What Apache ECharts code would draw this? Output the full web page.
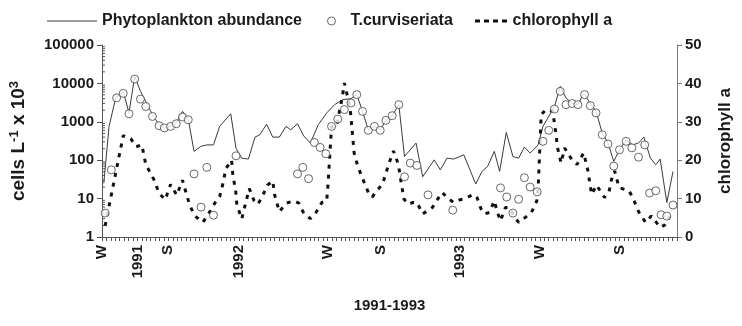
<!DOCTYPE html>
<html>
<head>
<meta charset="utf-8">
<script src="https://cdn.jsdelivr.net/npm/echarts@6/dist/echarts.min.js"></script>
<style>
  html, body { margin: 0; padding: 0; background: #fff; overflow: hidden; }
  #chart { width: 742px; height: 326px; }
</style>
</head>
<body>
<div id="chart"></div>
<script>
// Sampling position along the 1991-1993 record (one unit per sampling tick)
const phytoWeek = [0.4, 1.6, 3.1, 4.8, 6.1, 7.4, 8.7, 9.9, 11.4, 12.9, 14.1, 15.5, 16.8, 18.2, 19.5, 20.8, 22.4, 23.7, 25.2, 26.6,
  29.1, 30.3, 31.6, 33.1, 34.6, 35.7, 37.2, 38.6, 40.1, 41.6, 42.7, 44.2, 45.6, 47.1, 48.9, 50.8, 52.6, 54.5, 56.3, 57.6,
  58.9, 60.2, 61.6, 62.9, 64.2, 65.6, 67.1, 68.4, 71.0, 72.5, 75.1, 76.5, 78.0, 79.5, 81.8, 84.5, 85.9, 87.2, 88.7, 89.9,
  91.4, 92.9, 94.2, 95.5, 96.8, 98.6, 99.7, 102.3, 103.6, 104.9, 106.3, 107.6, 108.9, 110.4, 111.7, 113.1, 114.4, 115.7, 117.0, 118.5,
  120.0, 121.3, 122.5, 124.0, 125.2, 126.2, 127.7, 129.1];
// Phytoplankton abundance, cells L-1 x 10^3
const phytoCells = [25, 760, 4200, 6200, 1700, 15400, 6200, 3400, 1540, 840, 690, 760, 930, 1870, 1180, 170, 230, 250, 250, 760,
  1620, 205, 113, 107, 400, 460, 870, 400, 400, 760, 620, 890, 430, 280, 840, 1700, 2800, 3800, 4000, 5100,
  1870, 620, 760, 620, 1090, 1440, 2800, 125, 280, 37, 102, 56, 113, 107, 138, 24, 51, 69, 170, 51,
  530, 125, 113, 220, 153, 250, 760, 2500, 8400, 4200, 3000, 2800, 5600, 3000, 1870, 510, 280, 93, 187, 340,
  250, 280, 400, 113, 76, 107, 7.9, 51];

const curvWeek = [0.7, 2.1, 3.3, 4.8, 6.1, 7.4, 8.7, 9.9, 11.4, 12.9, 14.1, 15.5, 16.8, 18.2, 19.5, 20.8, 22.4, 23.7, 25.2, 30.3,
  44.2, 45.4, 46.7, 48.0, 49.3, 50.6, 51.9, 53.3, 54.8, 56.3, 57.6, 58.9, 60.2, 61.6, 62.9, 64.2, 65.6, 67.1, 68.4, 69.7,
  71.2, 73.7, 79.3, 90.1, 91.5, 92.9, 94.2, 95.5, 96.8, 98.4, 99.7, 101.0, 102.3, 103.6, 104.9, 106.3, 107.6, 109.1, 110.4, 111.7,
  113.1, 114.4, 115.7, 117.0, 118.5, 119.8, 121.3, 122.7, 123.8, 125.2, 126.4, 127.7, 129.1];
// T. curviseriata, cells L-1 x 10^3
const curvCells = [4.2, 56, 4200, 5500, 1620, 13000, 3900, 2500, 1380, 790, 690, 760, 890, 1330, 1130, 44, 6, 65, 3.7, 130,
  44, 65, 33, 290, 215, 147, 760, 1180, 2080, 3100, 5100, 1870, 600, 760, 600, 1090, 1440, 2800, 37, 84,
  73, 12.5, 5, 19, 11, 4.2, 9.6, 35, 20, 15, 310, 600, 2150, 6200, 2800, 3000, 2800, 5100, 2630, 1700,
  460, 265, 70, 187, 310, 210, 120, 250, 14, 16, 3.8, 3.5, 6.8];

const chlWeek = [0.7, 4.8, 6.5, 7.7, 9.0, 9.9, 11.8, 12.9, 14.3, 15.5, 16.9, 18.2, 19.1, 19.9, 21.0, 22.8, 24.4, 25.6, 26.6, 27.4,
  28.0, 29.3, 29.6, 30.2, 30.5, 31.6, 32.4, 33.3, 34.4, 35.2, 36.1, 37.4, 38.6, 39.0, 40.1, 41.6, 43.4, 44.5, 45.6, 47.1,
  48.2, 49.7, 50.8, 51.1, 51.9, 53.0, 54.3, 54.8, 56.1, 57.0, 57.8, 59.0, 60.2, 61.1, 62.2, 63.4, 64.8, 65.9, 67.0, 67.7,
  68.3, 69.3, 70.3, 71.2, 72.5, 73.7, 74.7, 75.4, 76.9, 78.4, 79.5, 80.9, 82.0, 83.9, 84.8, 85.7, 86.5, 87.6, 88.7, 89.4,
  90.1, 91.2, 92.1, 93.1, 94.2, 95.7, 97.1, 98.3, 98.6, 99.3, 100.4, 101.9, 102.6, 103.0, 103.8, 104.6, 106.3, 107.4, 108.9, 109.8,
  110.7, 111.8, 113.6, 114.6, 115.2, 115.9, 116.9, 118.1, 119.2, 120.3, 121.4, 122.9, 124.2, 126.2, 127.2, 128.4];
// Chlorophyll a (right axis)
const chlValue = [2.9, 26.4, 25.6, 23.5, 24.0, 18.9, 14.8, 11.4, 9.7, 13.7, 10.9, 14.8, 11.1, 8.1, 5.5, 3.8, 6.6, 9.0, 10.5, 14.2,
  17.8, 20.0, 15.9, 12.3, 8.3, 4.7, 8.5, 12.6, 9.4, 8.5, 10.2, 13.5, 14.6, 11.1, 6.6, 8.8, 9.4, 8.8, 6.2, 4.8,
  6.0, 9.0, 9.4, 13.7, 28.8, 28.8, 36.2, 40.1, 33.6, 21.9, 18.5, 15.0, 11.6, 10.4, 12.2, 13.7, 18.9, 22.4, 18.9, 13.7,
  9.8, 8.5, 9.0, 9.0, 6.0, 6.9, 7.7, 9.0, 11.6, 9.9, 9.0, 9.7, 9.9, 11.1, 10.2, 7.3, 6.0, 6.4, 9.4, 6.4,
  4.2, 7.7, 7.7, 5.5, 3.8, 5.1, 6.4, 9.4, 12.4, 31.9, 33.2, 32.8, 27.1, 23.2, 19.3, 23.2, 20.0, 18.9, 21.9, 17.6,
  11.1, 13.5, 10.3, 11.6, 15.0, 17.2, 12.9, 12.4, 12.0, 9.4, 6.4, 3.8, 5.5, 2.5, 3.1, 5.4];

// Season and year marks on the time axis
const markWeeks = [0, 8, 15, 31, 51, 63, 81, 99, 117];
const markTexts = ['W', '1991', 'S', '1992', 'W', 'S', '1993', 'W', 'S'];

// Minor log ticks (2..9 within each decade)
const minorTickValues = [];
for (let k = 0; k < 5; k++) for (let m = 2; m <= 9; m++) minorTickValues.push(m * Math.pow(10, k));

const zip = (xs, ys) => xs.map((x, i) => [x, ys[i]]);
const FONT = '"Liberation Sans", Arial, sans-serif';
const INK = '#1a1a1a';
const AXIS = '#555';

const chart = echarts.init(document.getElementById('chart'), null, { renderer: 'canvas' });

const legendText = { fontFamily: FONT, fontSize: 16, fontWeight: 'bold', color: INK };
const dashIcon = 'path://M0,0h5v3h-5z M9,0h5v3h-5z M18,0h5v3h-5z M27,0h5v3h-5z';

chart.setOption({
  animation: false,
  backgroundColor: '#fff',
  grid: { left: 100, right: 53, top: 45, bottom: 89 },
  legend: [
    { data: [{ name: 'Phytoplankton abundance', icon: 'rect' }], left: 42, top: 8,
      itemWidth: 50, itemHeight: 1, itemGap: 4,
      itemStyle: { color: '#3a3a3a', borderWidth: 0 }, textStyle: legendText },
    { data: [{ name: 'T.curviseriata', icon: 'circle' }], left: 322, top: 8,
      itemWidth: 8, itemHeight: 8, itemGap: 4,
      itemStyle: { color: '#fff', borderColor: '#444', borderWidth: 1 },
      textStyle: Object.assign({}, legendText, { padding: [0, 0, 0, 10] }) },
    { data: [{ name: 'chlorophyll a', icon: dashIcon }], left: 470, top: 8,
      itemWidth: 33, itemHeight: 3, itemGap: 4,
      itemStyle: { color: '#111', borderWidth: 0 }, textStyle: legendText }
  ],
  xAxis: {
    type: 'value', min: 0, max: 130, interval: 1,
    splitLine: { show: false },
    axisLine: { lineStyle: { color: AXIS, width: 1 } },
    axisTick: { length: 4, lineStyle: { color: AXIS } },
    axisLabel: {
      rotate: 90, margin: 8, interval: 0,
      fontFamily: FONT, fontSize: 15, fontWeight: 'bold', color: INK,
      formatter: v => { const i = markWeeks.indexOf(Math.round(v)); return i >= 0 ? markTexts[i] : ''; }
    },
    name: '1991-1993', nameLocation: 'middle', nameGap: 61,
    nameTextStyle: { fontFamily: FONT, fontSize: 15, fontWeight: 'bold', color: INK }
  },
  yAxis: [
    {
      type: 'log', logBase: 10, min: 1, max: 100000,
      splitLine: { show: false },
      axisLine: { show: true, lineStyle: { color: AXIS } },
      axisTick: { show: true, length: 5, lineStyle: { color: AXIS } },
      axisLabel: { margin: 8, fontFamily: FONT, fontSize: 15, fontWeight: 'bold', color: INK,
        formatter: v => String(Math.round(v)) },
      name: 'cells L{sup|-1} x 10{sup|3}', nameLocation: 'middle', nameRotate: 90, nameGap: 72,
      nameTextStyle: {
        fontFamily: FONT, fontSize: 19, fontWeight: 'bold', color: INK,
        rich: { sup: { fontFamily: FONT, fontSize: 13, fontWeight: 'bold', color: INK, verticalAlign: 'top', padding: [0, 0, 9, 0] } }
      }
    },
    {
      type: 'value', min: 0, max: 50, interval: 10, position: 'right',
      splitLine: { show: false },
      axisLine: { show: true, lineStyle: { color: '#777' } },
      axisTick: { show: true, length: 5, lineStyle: { color: '#777' } },
      axisLabel: { margin: 8, fontFamily: FONT, fontSize: 15, fontWeight: 'bold', color: INK },
      name: 'chlorophyll a', nameLocation: 'middle', nameRotate: 90, nameGap: 40,
      nameTextStyle: { fontFamily: FONT, fontSize: 17, fontWeight: 'bold', color: INK }
    }
  ],
  series: [
    {
      name: 'minor ticks', type: 'custom', yAxisIndex: 0, silent: true, z: 1,
      data: minorTickValues.map(v => [0, v]),
      renderItem: (params, api) => {
        const p = api.coord([0, api.value(1)]);
        return { type: 'line', shape: { x1: p[0], y1: p[1], x2: p[0] + 3, y2: p[1] },
          style: { stroke: AXIS, lineWidth: 1 } };
      }
    },
    {
      name: 'Phytoplankton abundance', type: 'line', yAxisIndex: 0, z: 3,
      data: zip(phytoWeek, phytoCells),
      symbol: 'none', showSymbol: false,
      lineStyle: { color: '#3a3a3a', width: 1 },
      itemStyle: { color: '#3a3a3a' }
    },
    {
      name: 'chlorophyll a', type: 'line', yAxisIndex: 1, z: 4,
      data: zip(chlWeek, chlValue),
      symbol: 'none', showSymbol: false,
      lineStyle: { color: '#111', width: 3, type: [4, 6] },
      itemStyle: { color: '#111' }
    },
    {
      name: 'T.curviseriata', type: 'scatter', yAxisIndex: 0, z: 5,
      data: zip(curvWeek, curvCells),
      symbol: 'circle', symbolSize: 8,
      itemStyle: { color: '#fff', borderColor: '#444', borderWidth: 1 }
    }
  ]
});
</script>
</body>
</html>
